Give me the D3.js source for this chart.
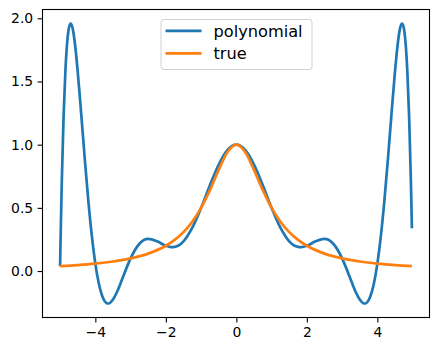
<!DOCTYPE html>
<html>
<head>
<meta charset="utf-8">
<script src="https://cdn.jsdelivr.net/npm/d3@7"></script>
<style>
  body { margin: 0; background: #fff; }
  text { font-family: "DejaVu Sans", sans-serif; }
</style>
</head>
<body>
<div id="chart"></div>
<script>
// polynomial (blue) samples
const polyX = [-5, -4.98, -4.95, -4.9, -4.85, -4.8, -4.75, -4.7, -4.65, -4.6, -4.55, -4.5,
  -4.4, -4.3, -4.2, -4.1, -4, -3.9, -3.8, -3.7, -3.65, -3.6, -3.5, -3.4, -3.3, -3.2, -3.1, -3,
  -2.75, -2.5, -2.25, -2, -1.85, -1.75, -1.5, -1.25, -1, -0.75, -0.5, -0.25, 0,
  0.25, 0.5, 0.75, 1, 1.25, 1.5, 1.75, 1.85, 2, 2.25, 2.5, 2.75,
  3, 3.1, 3.2, 3.3, 3.4, 3.5, 3.6, 3.65, 3.7, 3.8, 3.9, 4,
  4.1, 4.2, 4.3, 4.4, 4.5, 4.55, 4.6, 4.65, 4.7, 4.75, 4.8, 4.85, 4.9, 4.95, 4.98];
const polyY = [0.038, 0.338, 0.726, 1.230, 1.581, 1.805, 1.924, 1.959, 1.928, 1.846, 1.726, 1.579,
  1.240, 0.888, 0.560, 0.280, 0.059, -0.101, -0.201, -0.250, -0.257, -0.255, -0.226, -0.174, -0.108, -0.036, 0.035, 0.100,
  0.216, 0.254, 0.235, 0.200, 0.189, 0.191, 0.235, 0.343, 0.500, 0.679, 0.843, 0.959, 1.000,
  0.959, 0.843, 0.679, 0.500, 0.343, 0.235, 0.191, 0.189, 0.200, 0.235, 0.254, 0.216,
  0.100, 0.035, -0.036, -0.108, -0.174, -0.226, -0.255, -0.257, -0.250, -0.201, -0.101, 0.059,
  0.280, 0.560, 0.888, 1.240, 1.579, 1.726, 1.846, 1.928, 1.959, 1.924, 1.805, 1.581, 1.230, 0.726, 0.338];

// true function (orange) samples
const trueX = [-5, -4.5, -4, -3.5, -3, -2.5, -2, -1.75, -1.5, -1.25, -1, -0.75, -0.5, -0.25, 0,
  0.25, 0.5, 0.75, 1, 1.25, 1.5, 1.75, 2, 2.5, 3, 3.5, 4, 4.5, 4.98];
const trueY = [0.0385, 0.0471, 0.0588, 0.0755, 0.100, 0.1379, 0.200, 0.2462, 0.3077, 0.3902, 0.500, 0.640, 0.800, 0.9412, 1.000,
  0.9412, 0.800, 0.640, 0.500, 0.3902, 0.3077, 0.2462, 0.200, 0.1379, 0.100, 0.0755, 0.0588, 0.0471, 0.0388];

const xTicks = [-4, -2, 0, 2, 4];
const yTicks = [0.0, 0.5, 1.0, 1.5, 2.0];
const seriesNames = ["polynomial", "true"];
const seriesColors = ["#1f77b4", "#ff7f0e"];

const width = 439, height = 351;
const plotLeft = 42.5, plotRight = 429.5, plotTop = 9.5, plotBottom = 317.5;

const svg = d3.select("#chart").append("svg")
    .attr("width", width)
    .attr("height", height);

const x = d3.scaleLinear().domain([-5.499, 5.479]).range([plotLeft, plotRight]);
const y = d3.scaleLinear().domain([-0.3677, 2.0697]).range([plotBottom, plotTop]);

const line = d3.line()
    .x(d => x(d[0]))
    .y(d => y(d[1]))
    .curve(d3.curveMonotoneX);

const series = [
    d3.zip(polyX, polyY),
    d3.zip(trueX, trueY)
];

svg.append("g")
  .selectAll("path")
  .data(series)
  .join("path")
    .attr("d", line)
    .attr("fill", "none")
    .attr("stroke", (d, i) => seriesColors[i])
    .attr("stroke-width", 2.7)
    .attr("stroke-linejoin", "round")
    .attr("stroke-linecap", "butt");

// axes
const fmtMinus = s => s.replace("-", "\u2212");

const xAxis = svg.append("g")
    .attr("transform", `translate(0,${plotBottom})`)
    .call(d3.axisBottom(x).tickValues(xTicks).tickSize(4.9).tickPadding(4.4)
      .tickFormat(d => fmtMinus(d3.format("d")(d))));

const yAxis = svg.append("g")
    .attr("transform", `translate(${plotLeft},0)`)
    .call(d3.axisLeft(y).tickValues(yTicks).tickSize(4.9).tickPadding(4.4)
      .tickFormat(d3.format(".1f")));

[xAxis, yAxis].forEach(g => {
    g.select(".domain").remove();
    g.selectAll(".tick line").attr("stroke", "#000").attr("stroke-width", 1.1);
    g.selectAll(".tick text")
        .attr("fill", "#000")
        .style("font-size", "13.9px")
        .style("font-family", "'DejaVu Sans', sans-serif");
});

// frame
svg.append("rect")
    .attr("x", plotLeft)
    .attr("y", plotTop)
    .attr("width", plotRight - plotLeft)
    .attr("height", plotBottom - plotTop)
    .attr("fill", "none")
    .attr("stroke", "#000")
    .attr("stroke-width", 1.1);

// legend
const legend = svg.append("g").attr("transform", "translate(161,19.5)");
legend.append("rect")
    .attr("width", 151)
    .attr("height", 50)
    .attr("rx", 3)
    .attr("fill", "#fff")
    .attr("fill-opacity", 0.8)
    .attr("stroke", "#d0d0d0")
    .attr("stroke-width", 1);

const rows = legend.selectAll("g.row")
    .data(seriesNames)
    .join("g")
    .attr("class", "row")
    .attr("transform", (d, i) => `translate(0,${11.3 + i * 22.6})`);

rows.append("line")
    .attr("x1", 4.5)
    .attr("x2", 40.5)
    .attr("stroke", (d, i) => seriesColors[i])
    .attr("stroke-width", 2.7);

rows.append("text")
    .attr("x", 52.5)
    .attr("dy", "0.36em")
    .style("font-size", "16.2px")
    .attr("fill", "#000")
    .text(d => d);
</script>
</body>
</html>
